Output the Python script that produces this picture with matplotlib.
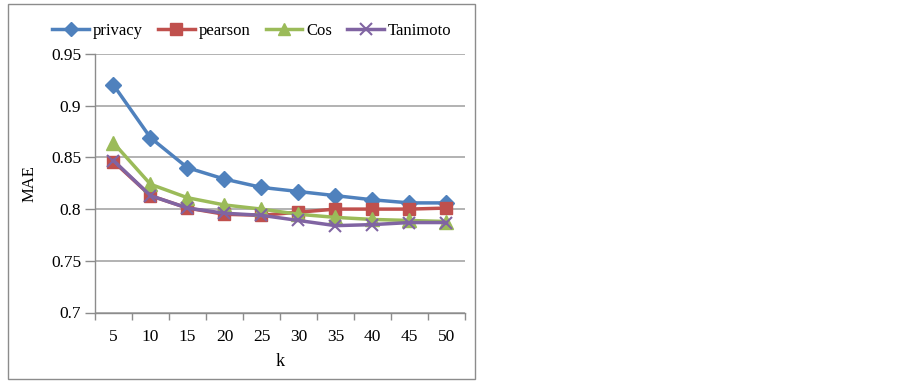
import matplotlib.pyplot as plt
from matplotlib.patches import Rectangle
import numpy as np

k_labels = ["5", "10", "15", "20", "25", "30", "35", "40", "45", "50"]
privacy = [0.920, 0.869, 0.840, 0.829, 0.821, 0.817, 0.813, 0.809, 0.806, 0.806]
pearson = [0.846, 0.813, 0.801, 0.795, 0.794, 0.797, 0.800, 0.800, 0.800, 0.801]
cos = [0.864, 0.824, 0.811, 0.804, 0.800, 0.795, 0.792, 0.790, 0.789, 0.788]
tanimoto = [0.847, 0.813, 0.801, 0.796, 0.794, 0.789, 0.784, 0.785, 0.787, 0.787]

plt.rcParams['font.family'] = ['Liberation Serif', 'DejaVu Serif']

W, H = 903, 381
fig = plt.figure(figsize=(W / 100, H / 100), dpi=100)
ax = fig.add_axes([95 / W, (H - 312.5) / H, (465 - 95) / W, (312.5 - 54) / H])

# outer chart frame
fig.patches.append(Rectangle((8 / W, 2 / H), (475 - 8) / W, (379 - 4) / H,
                             transform=fig.transFigure, fill=False,
                             edgecolor='#8c8c8c', linewidth=1.0))

x = np.arange(len(k_labels))
lw = 2.5
ax.plot(x, privacy, color='#4F81BD', marker='D', markersize=8, lw=lw, label='privacy', zorder=3)
ax.plot(x, pearson, color='#C0504D', marker='s', markersize=9, lw=lw, label='pearson', zorder=3)
ax.plot(x, cos, color='#9BBB59', marker='^', markersize=10, lw=lw, label='Cos', zorder=3)
ax.plot(x, tanimoto, color='#8064A2', marker='x', markersize=9, mew=1.5, lw=lw, label='Tanimoto', zorder=4)

ax.set_xlim(-0.5, len(k_labels) - 0.5)
ax.set_ylim(0.7, 0.95)
ax.set_yticks([0.7, 0.75, 0.8, 0.85, 0.9, 0.95])
ax.set_yticklabels(["0.7", "0.75", "0.8", "0.85", "0.9", "0.95"])
ax.set_xticks(x)
ax.set_xticklabels(k_labels)
ax.set_xticks(np.arange(-0.5, len(k_labels)), minor=True)
ax.tick_params(axis='x', which='major', length=0, pad=12, labelsize=12.5)
ax.tick_params(axis='x', which='minor', length=5, color='#8c8c8c', width=1)
ax.tick_params(axis='y', length=7, color='#8c8c8c', width=1, labelsize=12.5, pad=3)

ax.grid(axis='y', color='#a6a6a6', linewidth=1.2)
ax.set_axisbelow(True)
for s in ['top', 'right']:
    ax.spines[s].set_visible(False)
for s in ['left', 'bottom']:
    ax.spines[s].set_color('#8c8c8c')
    ax.spines[s].set_linewidth(1.0)

ax.set_xlabel('k', fontsize=13, labelpad=6)
ax.set_ylabel('MAE', fontsize=12, labelpad=10)

fig.legend(loc='center', bbox_to_anchor=(252 / W, (H - 31) / H), ncol=4,
           frameon=False, fontsize=12, handlelength=2.2, columnspacing=0.9,
           handletextpad=0.25, markerscale=0.9)

fig.savefig('out.png', dpi=100)
